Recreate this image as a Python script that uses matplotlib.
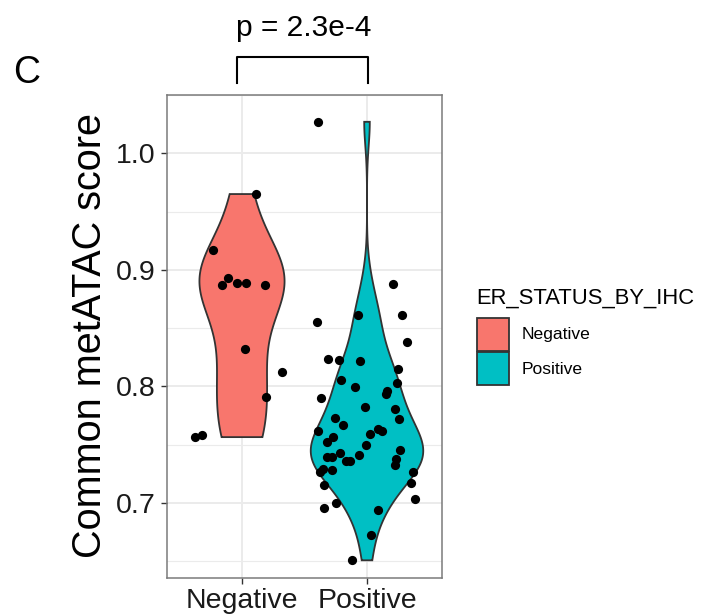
import numpy as np
import matplotlib.pyplot as plt
import matplotlib.transforms as mtransforms
from matplotlib.patches import Rectangle

plt.rcParams['font.family'] = ['Liberation Sans', 'DejaVu Sans']

# groups
groups = ['Negative', 'Positive']
colors = ['#F8766D', '#00BFC4']

# Negative points (jittered x, score)
neg_x = [1.11, 0.766, 0.886, 0.837, 0.958, 1.03, 1.18, 1.02, 1.32, 1.19, 0.624, 0.677]
neg_y = [0.965, 0.917, 0.893, 0.887, 0.889, 0.889, 0.887, 0.832, 0.8125, 0.7907, 0.7564, 0.7584]

# Positive points (jittered x, score)
pos_x = [1.608, 1.598, 1.926, 2.205, 2.28, 2.32, 1.688, 1.776, 1.944, 2.248,
         1.792, 1.90, 2.243, 1.63, 2.16, 2.15, 1.984, 2.22, 1.746, 1.81,
         2.256, 1.605, 2.085, 2.12, 2.02, 1.73, 1.68, 1.99, 2.26, 1.78,
         1.68, 1.72, 1.936, 1.83, 1.86, 2.23, 2.22, 1.645, 1.62, 1.72,
         2.37, 1.656, 2.35, 2.384, 1.752, 1.656, 2.09, 2.035, 1.876]
pos_y = [1.027, 0.855, 0.861, 0.888, 0.861, 0.838, 0.8235, 0.823, 0.8218, 0.815,
         0.8054, 0.7997, 0.8025, 0.7904, 0.7963, 0.7932, 0.7824, 0.7807, 0.7726, 0.7669,
         0.7717, 0.7618, 0.7635, 0.762, 0.7592, 0.7564, 0.7524, 0.7496, 0.7454, 0.743,
         0.739, 0.7394, 0.7411, 0.736, 0.736, 0.7374, 0.7326, 0.729, 0.7262, 0.7284,
         0.7267, 0.7157, 0.7168, 0.7037, 0.6997, 0.6954, 0.6937, 0.6725, 0.6507]

p_label = 'p = 2.3e-4'


def kde_nrd0(vals):
    vals = np.asarray(vals)
    sd = vals.std(ddof=1)
    iqr = np.percentile(vals, 75) - np.percentile(vals, 25)
    bw = 0.9 * min(sd, iqr / 1.34) * len(vals) ** -0.2
    grid = np.linspace(vals.min(), vals.max(), 512)
    dens = np.exp(-0.5 * ((grid[:, None] - vals[None, :]) / bw) ** 2).sum(axis=1)
    dens = dens / (len(vals) * bw * np.sqrt(2 * np.pi))
    return grid, dens


fig = plt.figure(figsize=(7.03, 6.14), dpi=100)
ax = fig.add_axes([167 / 703, 1 - 578 / 614, (442 - 167) / 703, (578 - 95) / 614])

# violins, scale = "area"
dens_list = [kde_nrd0(neg_y), kde_nrd0(pos_y)]
dmax = max(d.max() for g, d in dens_list)
for i, (g, d) in enumerate(dens_list):
    w = d / dmax * 0.45
    xs = np.concatenate([i + 1 - w, (i + 1 + w)[::-1]])
    ys = np.concatenate([g, g[::-1]])
    ax.fill(xs, ys, facecolor=colors[i], edgecolor='#333333', linewidth=1.3, zorder=2)

ax.scatter(neg_x, neg_y, s=44, color='black', zorder=3, linewidths=0)
ax.scatter(pos_x, pos_y, s=44, color='black', zorder=3, linewidths=0)

ax.set_xlim(0.4, 2.6)
ax.set_ylim(0.6355, 1.045)
ax.set_xticks([1, 2])
ax.set_xticklabels(groups)
ax.set_yticks([0.7, 0.8, 0.9, 1.0])
ax.set_yticklabels(['0.7', '0.8', '0.9', '1.0'])
ax.set_yticks([0.65, 0.75, 0.85, 0.95, 1.05], minor=True)
ax.grid(which='major', color='#EBEBEB', linewidth=1.4, zorder=0)
ax.grid(which='minor', axis='y', color='#EBEBEB', linewidth=0.8, zorder=0)
ax.set_axisbelow(True)
ax.tick_params(axis='both', which='major', length=4.5, width=1, color='#333333',
               labelsize=20.5, labelcolor='#1a1a1a', pad=4)
ax.tick_params(axis='x', which='major', pad=2.5)
ax.tick_params(axis='y', which='minor', length=0)
for s in ax.spines.values():
    s.set_color('#7a7a7a')
    s.set_linewidth(1.1)

fig.text(90 / 703, 1 - 336 / 614, 'Common metATAC score', rotation=90,
         ha='center', va='center', fontsize=28.5, color='black')

# significance bracket
trans = mtransforms.blended_transform_factory(ax.transData, ax.transAxes)
ax.plot([0.96, 0.96, 2.008, 2.008], [1.025, 1.079, 1.079, 1.025], color='black',
        linewidth=1.5, transform=trans, clip_on=False)
ax.text(1.49, 1.1224, p_label, transform=trans, ha='center', va='baseline', fontsize=21.5)

fig.text(13 / 703, 1 - 83 / 614, 'C', ha='left', va='baseline', fontsize=27)

# legend
fig.text(476 / 703, 1 - 298 / 614, 'ER_STATUS_BY_IHC', ha='left', va='center', fontsize=15.8)
for i, g in enumerate(groups):
    top = 318 + i * 34
    fig.patches.append(Rectangle((477 / 703, 1 - (top + 33) / 614), 32 / 703, 33 / 614,
                                 transform=fig.transFigure, facecolor=colors[i],
                                 edgecolor='#333333', linewidth=1.3))
    fig.text(522 / 703, 1 - (top + 17) / 614, g, ha='left', va='center', fontsize=12.6)

plt.savefig('out.png', dpi=100)
